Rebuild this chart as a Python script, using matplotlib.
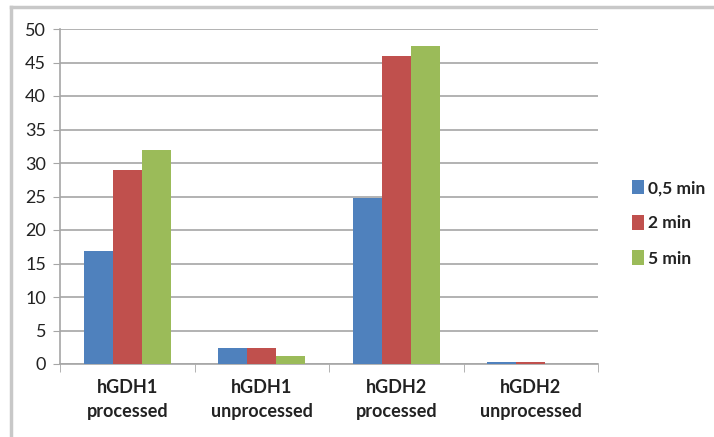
import numpy as np
import matplotlib.pyplot as plt
from matplotlib.lines import Line2D

categories = ["hGDH1\nprocessed", "hGDH1\nunprocessed", "hGDH2\nprocessed", "hGDH2\nunprocessed"]
series_names = ["0,5 min", "2 min", "5 min"]
v_05 = [16.9, 2.4, 24.8, 0.3]
v_2 = [29.0, 2.4, 46.0, 0.3]
v_5 = [31.9, 1.2, 47.4, 0.0]
colors = ["#4F81BD", "#C0504D", "#9BBB59"]

plt.rcParams["font.family"] = ["Lato", "DejaVu Sans"]

fig = plt.figure(figsize=(7.14, 4.37), dpi=100)
ax = fig.add_axes([60 / 714, 1 - 364 / 437, 538 / 714, 335 / 437])

x = np.arange(len(categories))
w = 0.215
for i, (vals, name) in enumerate(zip([v_05, v_2, v_5], series_names)):
    ax.bar(x + (i - 1) * w, vals, w, color=colors[i], label=name, zorder=3)

ax.set_xlim(-0.5, len(categories) - 0.5)
ax.set_ylim(0, 50)
ax.set_yticks(range(0, 51, 5))
ax.yaxis.grid(True, color="#A6A6A6", linewidth=1.2, zorder=0)
ax.tick_params(axis="y", length=5, color="#A6A6A6", labelsize=13, pad=5, labelcolor="#222222")

ax.set_xticks(x)
ax.set_xticklabels(categories, fontsize=13, fontweight="bold", linespacing=1.45, color="#222222")
ax.tick_params(axis="x", length=0, pad=11)
ax.set_xticks(np.arange(-0.5, len(categories), 1), minor=True)
ax.tick_params(axis="x", which="minor", length=6, color="#A6A6A6")

for s in ["top", "right"]:
    ax.spines[s].set_visible(False)
for s in ["left", "bottom"]:
    ax.spines[s].set_color("#A6A6A6")
    ax.spines[s].set_linewidth(1.2)

ax.legend(loc="center left", bbox_to_anchor=(1.035, 0.42), frameon=False,
          prop={"weight": "bold", "size": 12.5}, handlelength=0.65, handleheight=0.9,
          handletextpad=0.25, labelspacing=1.1, labelcolor="#222222")

# chart border (top and left visible)
fig.add_artist(Line2D([11 / 714, 11 / 714], [0, 1 - 7 / 437], color="#C8C8C8", linewidth=2.5,
                      transform=fig.transFigure))
fig.add_artist(Line2D([11 / 714, 1], [1 - 7 / 437, 1 - 7 / 437], color="#C8C8C8", linewidth=2.5,
                      transform=fig.transFigure))

fig.savefig("out.png", dpi=100)
